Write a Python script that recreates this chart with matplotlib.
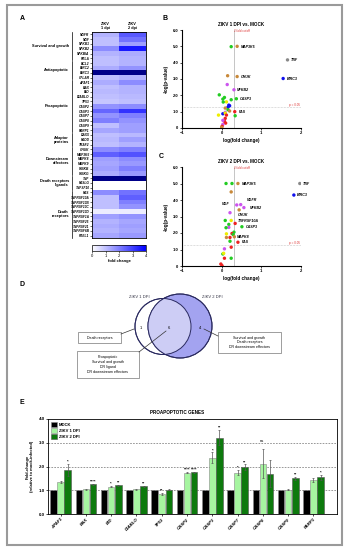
import numpy as np
import matplotlib
matplotlib.use("Agg")
import matplotlib.pyplot as plt
from matplotlib.colors import LinearSegmentedColormap
from matplotlib.patches import Circle, Rectangle
import matplotlib.transforms as mtrans

plt.rcParams['font.family'] = ['Liberation Sans', 'DejaVu Sans']

W, H = 347, 550

# ---------------- data ----------------
genes = ['NGFR', 'NGF', 'NFKB1', 'NFKB2', 'NFKBIA', 'RELA',
         'BCL2', 'BIRC2', 'BIRC3', 'CFLAR',
         'APAF1', 'BAX', 'BID', 'DIABLO', 'TP53', 'CASP2', 'CASP3', 'CASP7', 'CASP8', 'CASP9', 'PARP1',
         'DAXX', 'FADD', 'TRAF2',
         'CHUK', 'MAP3K5', 'MAPK8', 'MAPK9', 'IKBKB', 'IKBKG',
         'TNF', 'FASLG', 'TNFSF10',
         'FAS', 'TNFRSF10A', 'TNFRSF10B', 'TNFRSF10C', 'TNFRSF10D', 'TNFRSF1A', 'TNFRSF25',
         'TNFRSF21', 'TNFRSF6B', 'RTEL1']
fc_1dpi = [1.2, 1.0, 1.0, 1.8, 1.2, 1.0,
           1.0, 1.3, 6.0, 1.0,
           1.3, 1.0, 1.1, 1.0, 0.9, 1.7, 2.4, 1.7, 2.0, 1.0, 1.4,
           1.0, 1.1, 1.0,
           1.8, 2.5, 1.5, 1.4, 1.5, 1.3,
           6.0, 0.0, 0.0,
           1.8, 1.0, 1.0, 1.0, 0.3, 1.5, 1.2, 1.3, 1.2, 1.4]
fc_2dpi = [2.6, 2.2, 1.5, 3.6, 1.3, 1.2,
           1.2, 1.7, 6.0, 1.2,
           1.8, 1.2, 1.2, 1.1, 1.0, 1.8, 3.2, 2.0, 1.7, 1.5, 1.5,
           1.1, 1.5, 1.2,
           2.0, 2.7, 1.8, 1.6, 2.0, 1.6,
           6.0, 0.0, 0.0,
           2.2, 2.5, 2.0, 1.7, 0.3, 1.7, 1.4, 1.5, 1.4, 1.6]
groups = ['Survival and growth', 'Antiapoptotic', 'Proapoptotic', 'Adaptor\nproteins',
          'Downstream\neffectors', 'Death receptors\nligands', 'Death\nreceptors']
group_sizes = [6, 4, 11, 3, 6, 3, 10]

# volcano ZIKV 1 DPI
v1_x = [0.24, 0.39, 1.66, 1.55, 0.15, 0.39, 0.14, 0.31, -0.06, 0.07, 0.03, 0.37, 0.24, 0.12, 0.04,
        0.18, 0.20, 0.16, 0.09, 0.16, 0.20, 0.33, 0.09, 0.03, 0.09, 0.12, 0.34, -0.08, 0.09, 0.07,
        0.10, 0.03, 0.03, 0.01, 0.00]
v1_y = [4.98, 5.00, 4.17, 3.03, 3.20, 3.15, 2.66, 2.34, 2.03, 1.87, 1.77, 1.79, 1.73, 1.60, 1.59,
        1.40, 1.36, 1.28, 1.22, 1.12, 1.04, 1.00, 0.96, 0.87, 0.91, 0.79, 0.75, 0.79, 0.59, 0.41,
        0.30, 0.47, 0.22, 0.10, 0.04]
v1_c = ['g', 'o', 'k', 'b', 'o', 'o', 'p', 'p', 'g', 'g', 'g', 'g', 'g', 'y', 'g',
        'b', 'b', 'b', 'o', 'g', 'o', 'r', 'p', 'b', 'y', 'r', 'g', 'y', 'r', 'r',
        'r', 'p', 'p', 'r', 'o']
v1_labels = {'MAP3K5': (0.48, 4.98), 'TNF': (1.75, 4.17), 'BIRC3': (1.65, 3.03), 'CHUK': (0.48, 3.15),
             'NFKB2': (0.39, 2.34), 'CASP3': (0.45, 1.79), 'FAS': (0.43, 1.00)}

# volcano ZIKV 2 DPI
v2_x = [0.11, 0.26, 0.41, 1.97, 1.82, 0.24, 0.38, 0.48, 0.56, 0.44, 0.21, 0.34, 0.09, 0.24, 0.18,
        0.18, 0.11, 0.51, 0.31, 0.26, 0.12, 0.29, 0.21, 0.12, 0.32, 0.41, 0.21, 0.24, 0.07, 0.03,
        0.05, 0.07, 0.24, -0.02, 0.01]
v2_y = [5.00, 5.00, 5.00, 5.00, 4.30, 4.49, 3.70, 3.72, 3.54, 3.40, 3.23, 2.58, 2.76, 2.76, 2.52,
        2.34, 2.32, 2.38, 2.05, 1.97, 1.95, 1.91, 1.73, 1.73, 1.77, 1.44, 1.50, 1.14, 1.04, 0.73,
        0.77, 0.47, 0.47, 0.12, 0.02]
v2_c = ['g', 'g', 'o', 'k', 'b', 'o', 'p', 'p', 'p', 'o', 'p', 'r', 'g', 'y', 'g',
        'p', 'g', 'g', 'g', 'r', 'y', 'g', 'r', 'o', 'o', 'r', 'g', 'r', 'p', 'g',
        'y', 'r', 'g', 'r', 'r']
v2_labels = {'MAP3K5': (0.50, 5.00), 'TNF': (2.05, 5.00), 'BIRC3': (1.90, 4.30), 'NGF': (0.20, 3.78),
             'NGFR': (0.64, 3.98), 'NFKB2': (0.72, 3.54), 'CHUK': (0.42, 3.12),
             'TNFRSF10A': (0.41, 2.74), 'CASP3': (0.60, 2.38), 'MAPK8': (0.38, 1.77), 'FAS': (0.50, 1.44)}

# qPCR proapoptotic genes
bar_genes = ['APAF1', 'BAX', 'BID', 'DIABLO', 'TP53', 'CASP2', 'CASP3', 'CASP7', 'CASP8', 'CASP9', 'PARP1']
mock = [1.0] * 11
zikv1 = [1.36, 1.05, 1.15, 1.05, 0.85, 1.74, 2.37, 1.74, 2.12, 1.02, 1.43]
zikv1_err = [0.04, 0.02, 0.03, 0.02, 0.04, 0.02, 0.22, 0.10, 0.62, 0.02, 0.10]
zikv2 = [1.85, 1.26, 1.21, 1.16, 1.02, 1.76, 3.21, 1.97, 1.70, 1.51, 1.55]
zikv2_err = [0.25, 0.02, 0.03, 0.02, 0.03, 0.02, 0.32, 0.12, 0.57, 0.06, 0.10]
sig1 = ['', '', '*', '', '**', '****', '*', '*', '', '', '']
sig2 = ['*', '****', '**', '**', '', '****', '**', '**', '', '**', '*']

palette = {'g': '#22cc22', 'o': '#c8893a', 'k': '#888888', 'b': '#1010ee',
           'p': '#cc55ee', 'r': '#ee2222', 'y': '#eeee00'}


def ax_px(fig, x0, y0, x1, y1):
    return fig.add_axes([x0 / W, 1 - y1 / H, (x1 - x0) / W, (y1 - y0) / H])


fig = plt.figure(figsize=(W / 100, H / 100), dpi=100)

# overlay for frame, Venn, panel letters
ov = fig.add_axes([0, 0, 1, 1])
ov.set_xlim(0, W)
ov.set_ylim(H, 0)
ov.axis('off')
ov.add_patch(Rectangle((7, 5), 335, 540, fill=False, ec='#9a9a9a', lw=1.5))
for lab, (x, y) in {'A': (20, 18), 'B': (163, 18), 'C': (159, 156), 'D': (20, 285), 'E': (20, 403)}.items():
    ov.text(x, y, lab, fontsize=5, fontweight='bold', va='center')

# ---------------- A heatmap ----------------
cmap = LinearSegmentedColormap.from_list('wb', ['#ffffff', '#0000ff'])
cmap.set_over('#000088')
axA = ax_px(fig, 92, 32, 146, 238)
mat = np.array([fc_1dpi, fc_2dpi]).T
im = axA.imshow(mat, cmap=cmap, vmin=0, vmax=4, aspect='auto', interpolation='nearest')
axA.set_yticks(range(len(genes)))
axA.set_yticklabels(genes, fontsize=2.3, fontweight='bold', fontstyle='italic')
axA.tick_params(axis='y', length=1.2, width=0.4, pad=0.5)
axA.set_xticks([])
for s in axA.spines.values():
    s.set_linewidth(0.6)
axA.text(0.25, 1.012, 'ZIKV\n1 dpi', transform=axA.transAxes, ha='center', va='bottom',
         fontsize=2.8, fontweight='bold', linespacing=1.0)
axA.text(0.75, 1.012, 'ZIKV\n2 dpi', transform=axA.transAxes, ha='center', va='bottom',
         fontsize=2.8, fontweight='bold', linespacing=1.0)
tr = mtrans.blended_transform_factory(axA.transAxes, axA.transData)
start = 0
for g, n in zip(groups, group_sizes):
    axA.plot([-0.37, -0.37], [start - 0.4, start + n - 0.6], color='k', lw=0.5,
             transform=tr, clip_on=False)
    axA.text(-0.43, start + (n - 1) / 2, g, transform=tr, ha='right', va='center',
             fontsize=2.8, fontweight='bold', linespacing=1.1)
    start += n

axCb = ax_px(fig, 92, 245, 146, 251)
cb = fig.colorbar(im, cax=axCb, orientation='horizontal', ticks=[0, 1, 2, 3, 4])
cb.ax.tick_params(labelsize=3, length=1.2, width=0.4, pad=0.8)
cb.outline.set_linewidth(0.5)
cb.set_label('fold change', fontsize=3, fontweight='bold', labelpad=1)


# ---------------- B / C volcano ----------------
def volcano(ax, xs, ys, cs, labels, title):
    ax.axvline(np.log10(2), color='#bbbbbb', lw=0.6, zorder=0)
    ax.axhline(-np.log10(0.05), color='#999999', lw=0.4, ls=':', zorder=0)
    ax.scatter(xs, ys, c=[palette[c] for c in cs], s=6, linewidths=0, zorder=3)
    for name, (x, y) in labels.items():
        ha = 'right' if name == 'NGF' else 'left'
        ax.text(x, y, name, fontsize=2.6, fontweight='bold', fontstyle='italic', va='center', ha=ha)
    ax.text(np.log10(2) + 0.02, 5.95, '2 fold cutoff', color='#dd3333', fontsize=2.2, va='center')
    ax.text(1.98, 1.42, 'p = 0.05', color='#dd3333', fontsize=2.2, va='center', ha='right')
    ax.set_xlim(-1, 2)
    ax.set_ylim(0, 6)
    ax.set_xticks([-1, 0, 1, 2])
    ax.set_yticks([0, 1, 2, 3, 4, 5, 6])
    ax.set_yticklabels(['0', '1.0', '2.0', '3.0', '4.0', '5.0', '6.0'])
    ax.tick_params(labelsize=3, length=1.5, width=0.5, pad=1)
    for lbl in ax.get_xticklabels() + ax.get_yticklabels():
        lbl.set_fontweight('bold')
    ax.spines['top'].set_visible(False)
    ax.spines['right'].set_visible(False)
    for s in ('left', 'bottom'):
        ax.spines[s].set_linewidth(0.8)
    ax.set_title(title, fontsize=3.3, fontweight='bold', pad=3)
    ax.set_xlabel('log(fold change)', fontsize=3.3, fontweight='bold', labelpad=2)
    ax.set_ylabel('-log(p-value)', fontsize=3.3, fontweight='bold', labelpad=3)


axB = ax_px(fig, 182, 30, 301, 128)
volcano(axB, v1_x, v1_y, v1_c, v1_labels, 'ZIKV 1 DPI vs. MOCK')
axC = ax_px(fig, 182, 167, 301, 266)
volcano(axC, v2_x, v2_y, v2_c, v2_labels, 'ZIKV 2 DPI vs. MOCK')

# ---------------- D Venn ----------------
right_c = Circle((180, 326), 32, fc='#a3a3f0', ec='#2a2a60', lw=0.7, zorder=2)
left_c = Circle((163, 326.5), 28, fc='white', ec='#2a2a60', lw=0.7, zorder=1)
ov.add_patch(left_c)
ov.add_patch(right_c)
inter = Circle((163, 326.5), 28, fc='#cdcdf5', ec='none', zorder=3)
ov.add_patch(inter)
inter.set_clip_path(right_c)
ov.add_patch(Circle((163, 326.5), 28, fc='none', ec='#2a2a60', lw=0.7, zorder=4))
ov.add_patch(Circle((180, 326), 32, fc='none', ec='#2a2a60', lw=0.7, zorder=4))
ov.text(139, 298, 'ZIKV 1 DPI', fontsize=3, ha='center', color='#333344')
ov.text(212, 298, 'ZIKV 2 DPI', fontsize=3, ha='center', color='#333344')
for t, (x, y) in {'1': (141, 328), '6': (169, 328), '4': (200, 328)}.items():
    ov.text(x, y, t, fontsize=3, ha='center', va='center', zorder=5)

ov.add_patch(Rectangle((78, 332), 43, 11, fill=False, ec='#777777', lw=0.5))
ov.text(99.5, 337.5, 'Death receptors', fontsize=2.6, ha='center', va='center')
ov.plot([121, 134], [334, 329], color='#333333', lw=0.5)
ov.add_patch(Rectangle((77, 351), 62, 27, fill=False, ec='#777777', lw=0.5))
ov.text(108, 364.5, 'Proapoptotic\nSurvival and growth\nDR ligand\nDR downstream effectors',
        fontsize=2.6, ha='center', va='center', linespacing=1.3)
ov.plot([139, 166], [352, 331], color='#333333', lw=0.5, zorder=6)
ov.add_patch(Rectangle((218, 332), 63, 21, fill=False, ec='#777777', lw=0.5))
ov.text(249.5, 342.5, 'Survival and growth\nDeath receptors\nDR downstream effectors',
        fontsize=2.6, ha='center', va='center', linespacing=1.3)
ov.plot([218, 204], [336, 329], color='#333333', lw=0.5, zorder=6)

# ---------------- E bars ----------------
axE = ax_px(fig, 48, 419, 337, 514)
x = np.arange(len(bar_genes))
bw = 0.26
off = 0.28
axE.bar(x - off, mock, bw, color='black', ec='#888888', lw=0.4, label='MOCK', zorder=2)
axE.bar(x, zikv1, bw, yerr=zikv1_err, color='#a6f5a0', ec='#888888', lw=0.4,
        error_kw=dict(lw=0.5, capsize=1, capthick=0.5, ecolor='#555555'), label='ZIKV 1 DPI', zorder=2)
axE.bar(x + off, zikv2, bw, yerr=zikv2_err, color='#0d7a0d', ec='#555555', lw=0.4,
        error_kw=dict(lw=0.5, capsize=1, capthick=0.5, ecolor='#555555'), label='ZIKV 2 DPI', zorder=2)
for i in range(len(bar_genes)):
    if sig1[i]:
        axE.text(x[i], zikv1[i] + zikv1_err[i] + 0.05, sig1[i], fontsize=3, ha='center', fontweight='bold')
    if sig2[i]:
        axE.text(x[i] + off, zikv2[i] + zikv2_err[i] + 0.05, sig2[i], fontsize=3, ha='center', fontweight='bold')
axE.text(x[8] - 0.05, 3.05, 'ns', fontsize=3, ha='center')
for yy in (1, 2, 3):
    axE.axhline(yy, color='#888888', lw=0.6, ls=(0, (2, 1.5)), zorder=1)
axE.set_xlim(-0.5, 10.93)
axE.set_ylim(0, 4)
axE.set_yticks([0, 1, 2, 3, 4])
axE.set_yticklabels(['0.0', '1.0', '2.0', '3.0', '4.0'])
axE.set_xticks(x)
axE.set_xticklabels(bar_genes, rotation=45, ha='right', rotation_mode='anchor',
                    fontsize=3.2, fontweight='bold', fontstyle='italic')
axE.tick_params(labelsize=3.2, length=1.5, width=0.5, pad=1)
for lbl in axE.get_yticklabels():
    lbl.set_fontweight('bold')
for s in axE.spines.values():
    s.set_linewidth(0.6)
axE.set_ylabel('Fold-change\n(relative to mock-infected)', fontsize=3, fontweight='bold', labelpad=3)
axE.legend(loc='upper left', fontsize=3, frameon=False, handlelength=1.3, handleheight=1.3,
           borderpad=0.3, labelspacing=0.3, handletextpad=0.5, prop={'weight': 'bold', 'size': 3})
ov.text(177, 412, 'PROAPOPTOTIC GENES', fontsize=3.3, fontweight='bold', ha='center', va='center')

fig.savefig('out.png', dpi=100)
